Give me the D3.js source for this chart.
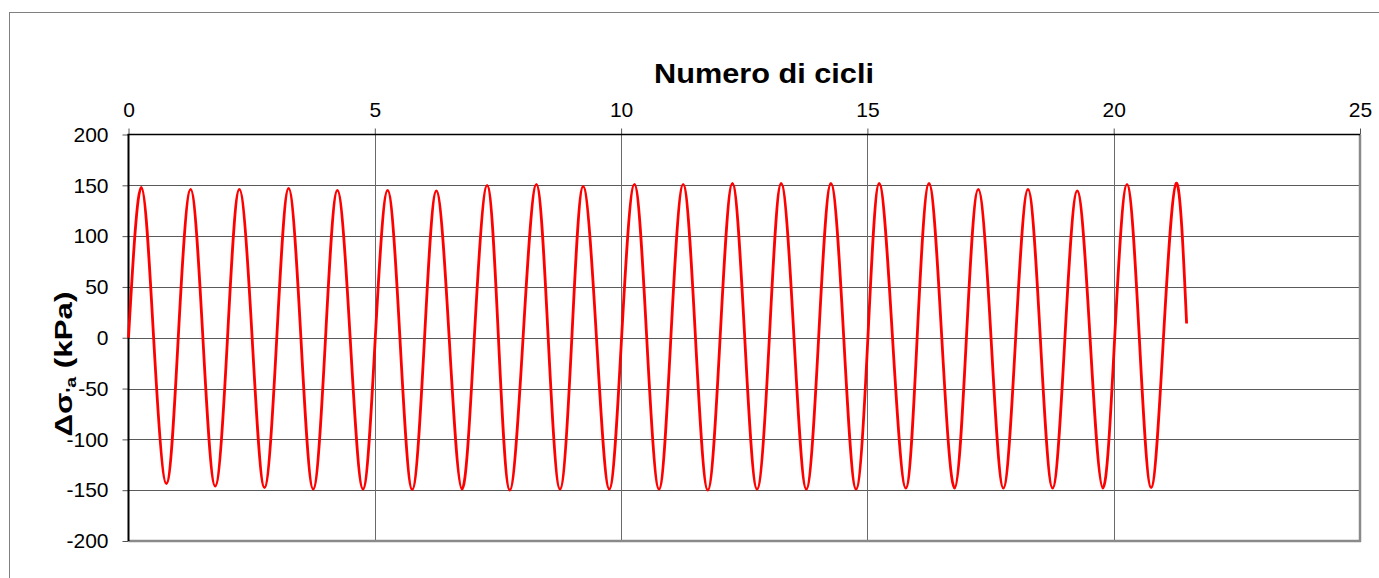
<!DOCTYPE html>
<html>
<head>
<meta charset="utf-8">
<script src="https://cdn.jsdelivr.net/npm/d3@7"></script>
<style>
  html, body { margin: 0; padding: 0; background: #fff; overflow: hidden; }
  svg { display: block; font-family: "Liberation Sans", Arial, sans-serif; }
</style>
</head>
<body>
<svg id="chart" width="1379" height="578"></svg>
<script>
// ---- data ----
const xTicks = [0, 5, 10, 15, 20, 25];
const yTicks = [-200, -150, -100, -50, 0, 50, 100, 150, 200];
const xTitle = "Numero di cicli";

// number of cycles (x) and axial stress change in kPa (y)
const cycleN = [0,
  0.26, 0.51, 0.77, 1.01,
  1.26, 1.51, 1.76, 2.01,
  2.25, 2.51, 2.76, 3.01,
  3.25, 3.50, 3.75, 4.00,
  4.24, 4.50, 4.76, 5.01,
  5.26, 5.51, 5.76, 6.01,
  6.25, 6.51, 6.77, 7.02,
  7.28, 7.51, 7.74, 8.01,
  8.28, 8.52, 8.76, 9.00,
  9.23, 9.50, 9.76, 10.01,
  10.27, 10.52, 10.77, 11.01,
  11.26, 11.51, 11.76, 12.01,
  12.26, 12.51, 12.76, 13.01,
  13.25, 13.51, 13.76, 14.01,
  14.26, 14.52, 14.77, 15.01,
  15.24, 15.51, 15.78, 16.01,
  16.25, 16.51, 16.77, 17.01,
  17.25, 17.51, 17.76, 18.01,
  18.26, 18.51, 18.76, 19.01,
  19.26, 19.52, 19.78, 20.02,
  20.27, 20.52, 20.76, 21.01,
  21.27, 21.48];

const deltaSigma = [0,
  148, 0, -143.5, 0,
  146, 0, -146, 0,
  146, 0, -147.5, 0,
  147, 0, -149, 0,
  145, 0, -149, 0,
  145, 0, -149.5, 0,
  144.5, 0, -149, 0,
  150, 0, -150, 0,
  151, 0, -149, 0,
  149, 0, -149, 0,
  151, 0, -149, 0,
  151, 0, -150, 0,
  152, 0, -149, 0,
  152, 0, -149, 0,
  152, 0, -149, 0,
  152, 0, -148, 0,
  152, 0, -148, 0,
  146, 0, -148, 0,
  146, 0, -148, 0,
  144.5, 0, -148, 0,
  151, 0, -147.5, 0,
  152, 14];

// ---- layout ----
const svg = d3.select("#chart");
const pLeft = 128.5, pRight = 1360, pTop = 134.5, pBottom = 541;
const x = d3.scaleLinear().domain([0, 25]).range([pLeft, pRight]);
const y = d3.scaleLinear().domain([-200, 200]).range([pBottom, pTop]);

// outer chart frame
svg.append("rect")
  .attr("x", 9.5).attr("y", 12.5)
  .attr("width", 1420).attr("height", 620)
  .attr("fill", "#fff").attr("stroke", "#808080").attr("stroke-width", 1);

// gridlines
svg.append("g").selectAll("line").data(yTicks.filter(d => d !== 200 && d !== -200))
  .join("line")
  .attr("x1", pLeft).attr("x2", pRight)
  .attr("y1", d => Math.round(y(d)) + 0.5).attr("y2", d => Math.round(y(d)) + 0.5)
  .attr("stroke", "#5a5a5a").attr("stroke-width", 1);
svg.append("g").selectAll("line").data(xTicks.filter(d => d !== 0 && d !== 25))
  .join("line")
  .attr("y1", pTop).attr("y2", pBottom)
  .attr("x1", d => Math.round(x(d)) + 0.5).attr("x2", d => Math.round(x(d)) + 0.5)
  .attr("stroke", "#6a6a6a").attr("stroke-width", 1);

// plot area right & bottom border (gray)
svg.append("line").attr("x1", pRight).attr("x2", pRight).attr("y1", pTop).attr("y2", pBottom + 1)
  .attr("stroke", "#8a8a8a").attr("stroke-width", 2.5);
svg.append("line").attr("x1", pLeft).attr("x2", pRight + 1).attr("y1", pBottom).attr("y2", pBottom)
  .attr("stroke", "#8a8a8a").attr("stroke-width", 2.5);

// axes
const fmt = d => String(d);
const xAxis = d3.axisTop(x).tickValues(xTicks).tickSize(6).tickPadding(12).tickFormat(fmt);
const yAxis = d3.axisLeft(y).tickValues(yTicks).tickSize(6).tickPadding(14).tickFormat(fmt);

const gx = svg.append("g").attr("transform", `translate(0,${pTop})`).call(xAxis);
const gy = svg.append("g").attr("transform", `translate(${pLeft},0)`).call(yAxis);

[gx, gy].forEach(g => {
  g.select(".domain").remove();
  g.selectAll(".tick line").attr("stroke", "#555").attr("stroke-width", 1);
  g.selectAll(".tick text").attr("fill", "#000")
    .style("font-family", '"Liberation Sans", Arial, sans-serif')
    .style("font-size", "21px");
});
gx.selectAll(".tick text").attr("dy", "0");

// black axis lines (top and left)
svg.append("line").attr("x1", pLeft - 1).attr("x2", pRight).attr("y1", pTop).attr("y2", pTop)
  .attr("stroke", "#000").attr("stroke-width", 1.6);
svg.append("line").attr("x1", pLeft).attr("x2", pLeft).attr("y1", pTop).attr("y2", pBottom)
  .attr("stroke", "#000").attr("stroke-width", 2);

// the series line
const pts = cycleN.map((c, i) => [c, deltaSigma[i]]);
const line = d3.line().x(d => x(d[0])).y(d => y(d[1])).curve(d3.curveNatural);
svg.append("path").datum(pts)
  .attr("d", line)
  .attr("fill", "none")
  .attr("stroke", "#ff0000")
  .attr("stroke-width", 2.8)
  .attr("stroke-linejoin", "round");

// x title
const tTitle = svg.append("text")
  .attr("text-anchor", "middle")
  .attr("font-weight", "bold")
  .style("font-size", "28px")
  .text(xTitle);
{
  const w = tTitle.node().getComputedTextLength();
  const s = 220 / w;
  tTitle.attr("transform", `translate(764,83) scale(${s},1)`);
}

// y title
const yT = svg.append("text")
  .attr("text-anchor", "middle")
  .attr("font-weight", "bold")
  .style("font-size", "24px");
yT.append("tspan").text("Δσ");
yT.append("tspan").attr("dy", 4).style("font-size", "15px").text("'a");
yT.append("tspan").attr("dy", -4).text(" (kPa)");
{
  const w = yT.node().getComputedTextLength();
  const s = 145 / w;
  yT.attr("transform", `translate(72,364) rotate(-90) scale(${s},1)`);
}
</script>
</body>
</html>
